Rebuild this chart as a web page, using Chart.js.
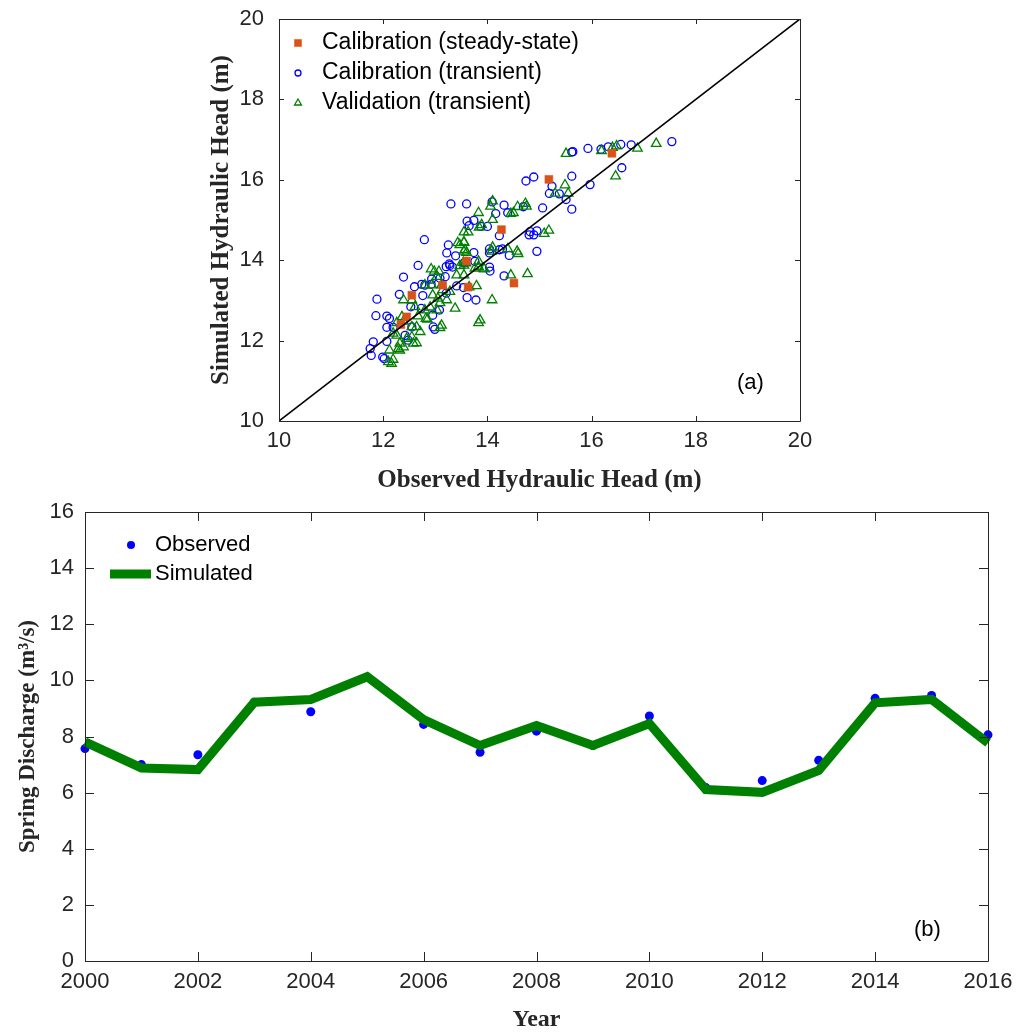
<!DOCTYPE html>
<html>
<head>
<meta charset="utf-8">
<script src="https://cdn.jsdelivr.net/npm/chart.js@4.4.1/dist/chart.umd.min.js"></script>
<style>
html, body { margin: 0; padding: 0; background: #fff; }
#headChart { position: absolute; left: 0; top: 0; }
#springChart { position: absolute; left: 0; top: 490px; }
</style>
</head>
<body>
<canvas id="headChart" width="1021" height="500"></canvas>
<canvas id="springChart" width="1021" height="544"></canvas>
<script>
// (a) observed vs simulated hydraulic head (m)
var steadyObs = [12.34, 12.45, 12.55, 13.14, 13.60, 13.63, 14.27, 14.51, 15.18, 16.39];
var steadySim = [12.40, 12.59, 13.13, 13.38, 13.98, 13.33, 14.76, 13.43, 16.01, 16.66];

var calObs = [13.60, 14.09, 14.32, 14.16, 14.39, 14.69, 15.06, 15.62, 13.61, 13.74, 13.65, 13.87, 14.00, 14.23, 14.82, 14.89, 14.80, 14.95,
    13.74, 14.04, 14.04, 14.23, 14.29, 14.42, 14.95, 13.55, 13.76, 14.04, 14.05, 14.32, 13.54, 13.61, 13.78, 14.74, 14.89, 15.24, 15.19,
    15.38, 15.51, 15.62, 15.97, 15.62, 15.64, 15.93, 16.18, 16.32, 16.56, 16.76, 16.58, 17.54, 13.25, 12.67, 12.39, 12.60, 12.74, 12.80,
    12.92, 12.93, 13.09, 13.19, 13.27, 13.33, 13.28, 13.21, 13.39, 13.41, 13.21, 12.76, 12.31, 11.88, 12.53, 12.73, 12.95, 13.08, 11.86,
    12.07, 12.12, 12.07, 12.19, 12.55, 12.96, 12.99, 12.42, 12.48, 11.81, 11.75, 11.77, 11.99, 12.02, 13.22, 13.30, 12.79, 12.07];
var calSim = [15.40, 15.45, 15.37, 15.16, 15.18, 15.33, 15.30, 15.27, 14.97, 14.99, 14.86, 14.84, 14.84, 14.61, 14.71, 14.63, 14.63, 14.73,
    14.19, 14.28, 14.18, 14.26, 14.28, 14.12, 14.22, 13.93, 13.97, 13.83, 13.73, 13.61, 13.32, 13.07, 13.01, 15.97, 16.07, 15.84, 15.66,
    15.65, 15.51, 16.09, 15.88, 16.69, 16.70, 16.78, 16.76, 16.82, 16.88, 16.87, 16.30, 16.95, 14.38, 13.87, 13.58, 13.34, 13.40, 13.38,
    13.40, 13.53, 13.55, 13.59, 13.91, 13.83, 13.87, 13.84, 14.11, 13.36, 13.18, 13.12, 13.15, 13.03, 12.84, 12.80, 12.63, 12.76, 12.62,
    12.61, 12.55, 12.33, 12.33, 12.34, 12.34, 12.28, 12.13, 12.01, 11.97, 11.80, 11.63, 11.59, 11.55, 14.18, 15.40, 14.51, 11.98];

var valObs = [15.51, 16.19, 16.40, 16.48, 16.88, 17.24, 16.46, 15.49, 15.30, 15.55, 14.10, 14.06, 14.58, 14.73, 14.75, 14.50, 14.45, 13.83,
    14.10, 13.89, 13.84, 13.55, 13.63, 15.18, 15.09, 13.55, 13.57, 13.60, 14.10, 14.08, 14.39, 14.57, 14.59, 13.55, 13.59, 13.83, 13.93,
    14.45, 14.77, 13.79, 13.65, 14.09, 13.47, 13.55, 12.92, 12.98, 13.07, 13.41, 13.55, 13.03, 13.47, 13.54, 13.76, 13.83, 13.94, 12.80,
    12.93, 13.12, 13.14, 13.28, 12.95, 13.05, 13.09, 13.22, 12.39, 12.55, 12.61, 13.38, 12.90, 12.80, 13.03, 12.67, 12.82, 12.85, 12.36,
    12.39, 12.26, 12.55, 12.64, 12.71, 13.12, 13.09, 13.86, 13.83, 12.19, 12.26, 12.32, 12.29, 12.45, 12.55, 12.58, 12.64, 12.39, 12.32,
    12.10, 12.16, 12.19, 12.12, 13.43, 13.55];
var valSim = [16.65, 16.72, 16.80, 16.84, 16.78, 16.90, 16.09, 15.87, 15.66, 15.66, 15.47, 15.34, 15.33, 15.41, 15.34, 15.18, 15.16, 15.18,
    15.01, 14.88, 14.82, 14.70, 14.70, 14.74, 14.66, 14.45, 14.26, 14.19, 14.32, 14.22, 14.28, 14.22, 14.16, 13.87, 13.93, 13.97, 13.80,
    13.63, 13.66, 13.36, 13.33, 13.01, 14.38, 14.22, 13.78, 13.72, 13.72, 13.63, 13.63, 13.59, 13.86, 13.94, 13.80, 13.84, 13.78, 13.38,
    13.38, 13.38, 13.26, 13.22, 13.13, 13.05, 12.94, 13.01, 13.01, 13.01, 12.84, 12.80, 12.83, 12.76, 12.76, 12.61, 12.55, 12.53, 12.59,
    12.48, 12.44, 12.34, 12.34, 12.22, 12.38, 12.32, 12.51, 12.44, 12.18, 12.13, 11.93, 11.80, 12.05, 12.09, 11.93, 11.94, 11.84, 11.76,
    11.47, 11.43, 11.53, 11.76, 14.43, 14.44];

var oneToOne = [10, 20];
var headTicks = [10, 12, 14, 16, 18, 20];

// (b) spring discharge (m3/s)
var years = [2000, 2001, 2002, 2003, 2004, 2005, 2006, 2007, 2008, 2009, 2010, 2011, 2012, 2013, 2014, 2015, 2016];
var observedQ = [7.57, 7.0, 7.35, 9.22, 8.88, 10.1, 8.43, 7.44, 8.19, 7.68, 8.73, 6.18, 6.43, 7.15, 9.36, 9.46, 8.06];
var simulatedQ = [7.81, 6.88, 6.82, 9.22, 9.32, 10.13, 8.6, 7.68, 8.39, 7.68, 8.46, 6.11, 6.01, 6.79, 9.2, 9.32, 7.77];
var yearTicks = [2000, 2002, 2004, 2006, 2008, 2010, 2012, 2014, 2016];
var dischargeTicks = [0, 2, 4, 6, 8, 10, 12, 14, 16];

var SANS = "'Liberation Sans', Arial, sans-serif";
var SERIF = "'Liberation Serif', 'Times New Roman', serif";
var AXIS = '#262626';

function zip(xs, ys) {
    return xs.map(function (x, i) { return { x: x, y: ys[i] }; });
}

function fixedTicks(list) {
    return function (s) { s.ticks = list.map(function (v) { return { value: v }; }); };
}

// matlab style box with ticks pointing inwards, plus legend and panel tag
var matlabBox = {
    id: 'matlabBox',
    afterDatasetsDraw: function (chart, args, opts) {
        var a = chart.chartArea, ctx = chart.ctx, len = opts.tickLen;
        var xs = chart.scales.x, ys = chart.scales.y;
        ctx.save();
        ctx.strokeStyle = AXIS;
        ctx.lineWidth = 1;
        ctx.beginPath();
        ctx.rect(Math.round(a.left) + 0.5, Math.round(a.top) + 0.5, Math.round(a.right - a.left), Math.round(a.bottom - a.top));
        xs.ticks.forEach(function (t) {
            var p = Math.round(xs.getPixelForValue(t.value)) + 0.5;
            ctx.moveTo(p, a.bottom); ctx.lineTo(p, a.bottom - len);
            ctx.moveTo(p, a.top); ctx.lineTo(p, a.top + len);
        });
        ys.ticks.forEach(function (t) {
            var p = Math.round(ys.getPixelForValue(t.value)) + 0.5;
            ctx.moveTo(a.left, p); ctx.lineTo(a.left + len, p);
            ctx.moveTo(a.right, p); ctx.lineTo(a.right - len, p);
        });
        ctx.stroke();

        // legend
        ctx.textBaseline = 'middle';
        ctx.textAlign = 'left';
        opts.legend.forEach(function (item, i) {
            var ds = chart.data.datasets[item.index];
            var y = opts.legendY + i * opts.legendGap;
            if (item.line) {
                ctx.strokeStyle = ds.borderColor;
                ctx.lineWidth = ds.borderWidth;
                ctx.beginPath();
                ctx.moveTo(item.x0, y); ctx.lineTo(item.x1, y);
                ctx.stroke();
            } else {
                ctx.fillStyle = ds.backgroundColor;
                ctx.strokeStyle = ds.borderColor;
                ctx.lineWidth = ds.borderWidth;
                Chart.helpers.drawPoint(ctx, { pointStyle: ds.pointStyle, radius: item.r, rotation: 0, borderWidth: ds.borderWidth }, opts.markerX, y);
            }
            ctx.font = opts.legendFont;
            ctx.fillStyle = '#000';
            ctx.fillText(item.text, opts.textX, y);
        });

        ctx.font = opts.tagFont;
        ctx.fillStyle = '#000';
        ctx.fillText(opts.tag, opts.tagX, opts.tagY);
        ctx.restore();
    }
};

function axisTitle(text, size) {
    return { display: true, text: text, color: AXIS, font: { family: SERIF, size: size, weight: 'bold' } };
}

// keep tick labels from pushing the plot box around
function noOverflow(s) {
    s.paddingLeft = 0; s.paddingRight = 0; s.paddingTop = 0; s.paddingBottom = 0;
}

new Chart(document.getElementById('headChart'), {
    type: 'scatter',
    data: {
        datasets: [{
            label: '1:1',
            type: 'line',
            data: zip(oneToOne, oneToOne),
            borderColor: '#000',
            borderWidth: 1.6,
            pointRadius: 0,
            order: 0
        }, {
            label: 'Calibration (steady-state)',
            data: zip(steadyObs, steadySim),
            pointStyle: 'rect',
            pointRadius: 5.6,
            backgroundColor: '#D95319',
            borderColor: '#D95319',
            borderWidth: 0.5,
            order: 1
        }, {
            label: 'Calibration (transient)',
            data: zip(calObs, calSim),
            pointStyle: 'circle',
            pointRadius: 4,
            backgroundColor: 'rgba(0,0,0,0)',
            borderColor: '#0000FF',
            borderWidth: 1.3,
            order: 3
        }, {
            label: 'Validation (transient)',
            data: zip(valObs, valSim),
            pointStyle: 'triangle',
            pointRadius: 5.5,
            backgroundColor: 'rgba(0,0,0,0)',
            borderColor: '#008000',
            borderWidth: 1.3,
            order: 2
        }]
    },
    options: {
        responsive: false,
        animation: false,
        layout: { padding: { left: 203, right: 221, top: 19, bottom: 0 } },
        scales: {
            x: {
                min: 10, max: 20,
                afterBuildTicks: fixedTicks(headTicks),
                afterFit: function (s) { s.height = 79; noOverflow(s); },
                grid: { display: false, drawTicks: false },
                border: { display: false },
                ticks: { color: AXIS, padding: 7, font: { family: SANS, size: 22 } },
                title: axisTitle('Observed Hydraulic Head (m)', 25)
            },
            y: {
                min: 10, max: 20,
                afterBuildTicks: fixedTicks(headTicks),
                afterFit: function (s) { s.width = 76; noOverflow(s); },
                grid: { display: false, drawTicks: false },
                border: { display: false },
                ticks: { color: AXIS, padding: 15, font: { family: SANS, size: 22 } },
                title: axisTitle('Simulated Hydraulic Head (m)', 25)
            }
        },
        plugins: {
            legend: { display: false },
            tooltip: { enabled: false },
            matlabBox: {
                tickLen: 5,
                legendFont: '23px ' + SANS,
                legendY: 43, legendGap: 30,
                markerX: 298, textX: 322,
                legend: [
                    { index: 1, text: 'Calibration (steady-state)', r: 5 },
                    { index: 2, text: 'Calibration (transient)', r: 3 },
                    { index: 3, text: 'Validation (transient)', r: 4 }
                ],
                tagFont: '22px ' + SANS, tag: '(a)', tagX: 737, tagY: 383
            }
        }
    },
    plugins: [matlabBox]
});

new Chart(document.getElementById('springChart'), {
    type: 'scatter',
    data: {
        datasets: [{
            label: 'Simulated',
            type: 'line',
            data: zip(years, simulatedQ),
            borderColor: '#008000',
            borderWidth: 9,
            borderJoinStyle: 'miter',
            pointRadius: 0,
            clip: false,
            order: 0
        }, {
            label: 'Observed',
            data: zip(years, observedQ),
            pointStyle: 'circle',
            pointRadius: 4.5,
            backgroundColor: '#0000FF',
            borderColor: '#0000FF',
            borderWidth: 0,
            clip: false,
            order: 1
        }]
    },
    options: {
        responsive: false,
        animation: false,
        layout: { padding: { left: 10, right: 33, top: 22, bottom: 0 } },
        scales: {
            x: {
                min: 2000, max: 2016,
                afterBuildTicks: fixedTicks(yearTicks),
                afterFit: function (s) { s.height = 73; noOverflow(s); },
                grid: { display: false, drawTicks: false },
                border: { display: false },
                ticks: { color: AXIS, padding: 8, font: { family: SANS, size: 22 }, callback: function (v) { return String(v); } },
                title: Object.assign(axisTitle('Year', 24), { padding: { top: 4, bottom: 0 } })
            },
            y: {
                min: 0, max: 16,
                afterBuildTicks: fixedTicks(dischargeTicks),
                afterFit: function (s) { s.width = 75; noOverflow(s); },
                grid: { display: false, drawTicks: false },
                border: { display: false },
                ticks: { color: AXIS, padding: 11, font: { family: SANS, size: 22 } },
                title: axisTitle('Spring Discharge (m\u00B3/s)', 23)
            }
        },
        plugins: {
            legend: { display: false },
            tooltip: { enabled: false },
            matlabBox: {
                tickLen: 9,
                legendFont: '22px ' + SANS,
                legendY: 55, legendGap: 29,
                markerX: 131, textX: 155,
                legend: [
                    { index: 1, text: 'Observed', r: 4 },
                    { index: 0, text: 'Simulated', line: true, x0: 110, x1: 151 }
                ],
                tagFont: '22px ' + SANS, tag: '(b)', tagX: 914, tagY: 440
            }
        }
    },
    plugins: [matlabBox]
});
</script>
</body>
</html>
